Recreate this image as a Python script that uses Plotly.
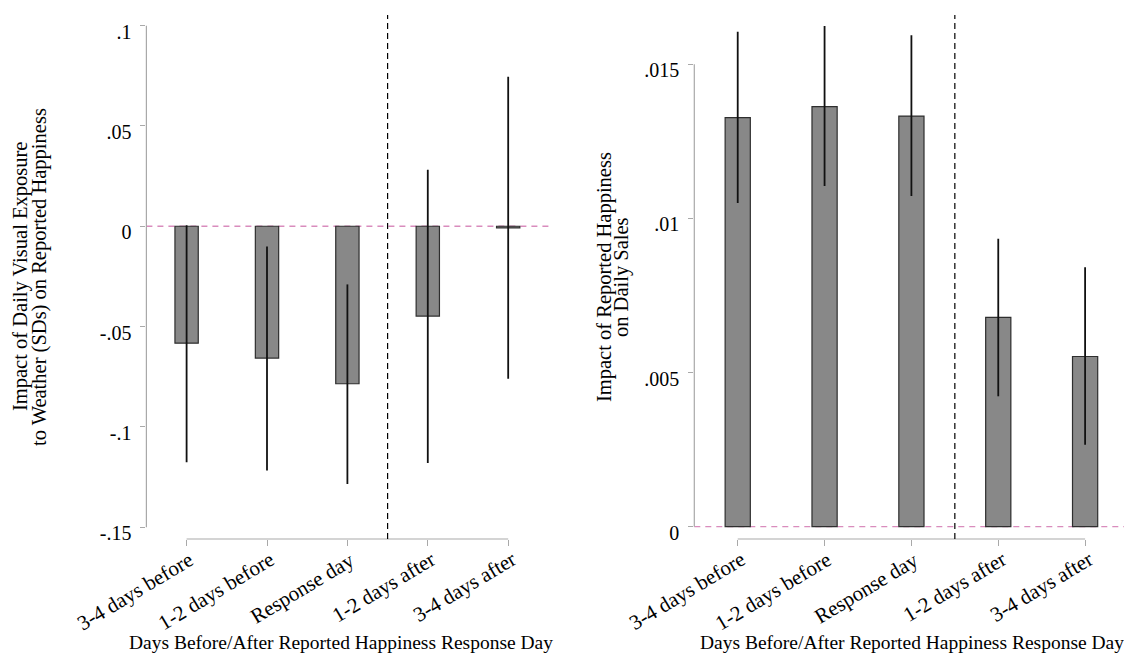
import plotly.graph_objects as go

categories = ["3-4 days before", "1-2 days before", "Response day", "1-2 days after", "3-4 days after"]

# Left panel: impact of weather exposure on reported happiness
left_coef = [-0.0583, -0.0657, -0.0785, -0.0448, -0.0008]
left_lo = [-0.1177, -0.1217, -0.1285, -0.1180, -0.0760]
left_hi = [0.0005, -0.0101, -0.0290, 0.0281, 0.0745]
left_ticks = [-0.15, -0.1, -0.05, 0, 0.05, 0.1]
left_ticktext = ["-.15", "-.1", "-.05", "0", ".05", ".1"]

# Right panel: impact of reported happiness on daily sales
right_coef = [0.01327, 0.01363, 0.01332, 0.00679, 0.00552]
right_lo = [0.01050, 0.01105, 0.01073, 0.00423, 0.00266]
right_hi = [0.01606, 0.01624, 0.01594, 0.00934, 0.00842]
right_ticks = [0, 0.005, 0.01, 0.015]
right_ticktext = ["0", ".005", ".01", ".015"]

xtitle = "Days Before/After Reported Happiness Response Day"
left_ytitle = ["Impact of Daily Visual Exposure", "to Weather (SDs) on Reported Happiness"]
right_ytitle = ["Impact of Reported Happiness", "on Daily Sales"]

# page has an 8px body margin, so the figure is sized to fit the window
OFF = 8
W, H = 1132 - OFF, 653 - OFF
FONT = "Liberation Serif"
BAR = "#888888"
BAR_LINE = "#2e2e2e"
AXIS = "#a9a9a9"
PINK = "#d98cbd"

def fx(px):  # screen x pixel -> paper x
    return (px - OFF) / W

def fy(py):  # screen y pixel -> paper y (plot area from 15 to 539 on screen)
    return (539 - py) / 524

fig = go.Figure()

def add_panel(coef, lo, hi, xa, ya):
    fig.add_trace(go.Bar(
        x=categories, y=coef, width=0.29,
        marker=dict(color=BAR, line=dict(color=BAR_LINE, width=1.2)),
        error_y=dict(type="data", symmetric=False,
                     array=[h - c for h, c in zip(hi, coef)],
                     arrayminus=[c - l for l, c in zip(lo, coef)],
                     color="#111111", thickness=1.8, width=0),
        xaxis=xa, yaxis=ya, showlegend=False, hoverinfo="skip"))

add_panel(left_coef, left_lo, left_hi, "x", "y")
add_panel(right_coef, right_lo, right_hi, "x2", "y2")

common_x = dict(type="category", showgrid=False, zeroline=False, showline=False,
                automargin=False, showticklabels=False,
                ticks="outside", ticklen=6, tickcolor=AXIS, tickwidth=1.2,
                fixedrange=True)
common_y = dict(showgrid=False, zeroline=False, showline=False, automargin=False,
                ticks="outside", ticklen=5, tickcolor=AXIS, tickwidth=1.2,
                tickfont=dict(family=FONT, size=20, color="black"),
                ticklabelstandoff=5, ticklabelshift=6)

fig.update_layout(
    template="none",
    width=W, height=H,
    margin=dict(l=0, r=0, t=15 - OFF, b=H - (539 - OFF), autoexpand=False),
    paper_bgcolor="white", plot_bgcolor="white",
    font=dict(family=FONT, size=19, color="black"),
    xaxis=dict(domain=[fx(146.4), fx(550)], range=[-0.5, 4.52], anchor="y", **common_x),
    xaxis2=dict(domain=[fx(694.3), 1.0], range=[-0.5, 4.54], anchor="y2", **common_x),
    yaxis=dict(domain=[0, 1], range=[-0.1559, 0.1053], anchor="x",
               tickvals=left_ticks, ticktext=left_ticktext, **common_y),
    yaxis2=dict(domain=[0, 1], range=[-0.0004, 0.0166], anchor="x2",
                tickvals=right_ticks, ticktext=right_ticktext, **common_y),
)

shapes = []
for xa, ya, ymin, ymax in [("x", "y", left_ticks[0], left_ticks[-1]),
                           ("x2", "y2", right_ticks[0], right_ticks[-1])]:
    # reference line at zero
    shapes.append(dict(type="line", xref=f"{xa} domain", yref=ya, x0=0, x1=1, y0=0, y1=0,
                       line=dict(color=PINK, width=1.3, dash="6px,5px"), layer="below"))
    # y axis line (only spanning the labelled range)
    shapes.append(dict(type="line", xref=f"{xa} domain", yref=ya, x0=0, x1=0, y0=ymin, y1=ymax,
                       line=dict(color=AXIS, width=1.2)))
    # x axis line from first to last category
    shapes.append(dict(type="line", xref=xa, yref=f"{ya} domain", x0=0, x1=len(categories) - 1,
                       y0=0, y1=0, line=dict(color=AXIS, width=1.2)))
    # vertical separator between response day and after
    shapes.append(dict(type="line", xref=xa, yref=f"{ya} domain", x0=2.5, x1=2.5, y0=0, y1=1,
                       line=dict(color="black", width=1.2, dash="6px,4px")))
fig.update_layout(shapes=shapes)

annotations = []
# rotated category labels, anchored at their upper-right end just below each tick
for xa in ["x", "x2"]:
    for cat in categories:
        annotations.append(dict(text=cat, xref=xa, yref="paper", x=cat, y=fy(546),
                                textangle=-31, showarrow=False, xanchor="right", yanchor="top",
                                xshift=13, borderpad=0,
                                font=dict(family=FONT, size=21, color="black")))
for text, xpx in [(left_ytitle[0], 20), (left_ytitle[1], 39),
                  (right_ytitle[0], 604), (right_ytitle[1], 621)]:
    annotations.append(dict(text=text, xref="paper", yref="paper", x=fx(xpx), y=fy(277),
                            textangle=-90, showarrow=False, xanchor="center", yanchor="middle",
                            font=dict(family=FONT, size=20.5, color="black")))
for xpx in [341.5, 911.5]:
    annotations.append(dict(text=xtitle, xref="paper", yref="paper", x=fx(xpx), y=fy(642),
                            showarrow=False, xanchor="center", yanchor="middle",
                            font=dict(family=FONT, size=19.5, color="black")))
fig.update_layout(annotations=annotations)

fig.write_html("out.html")
